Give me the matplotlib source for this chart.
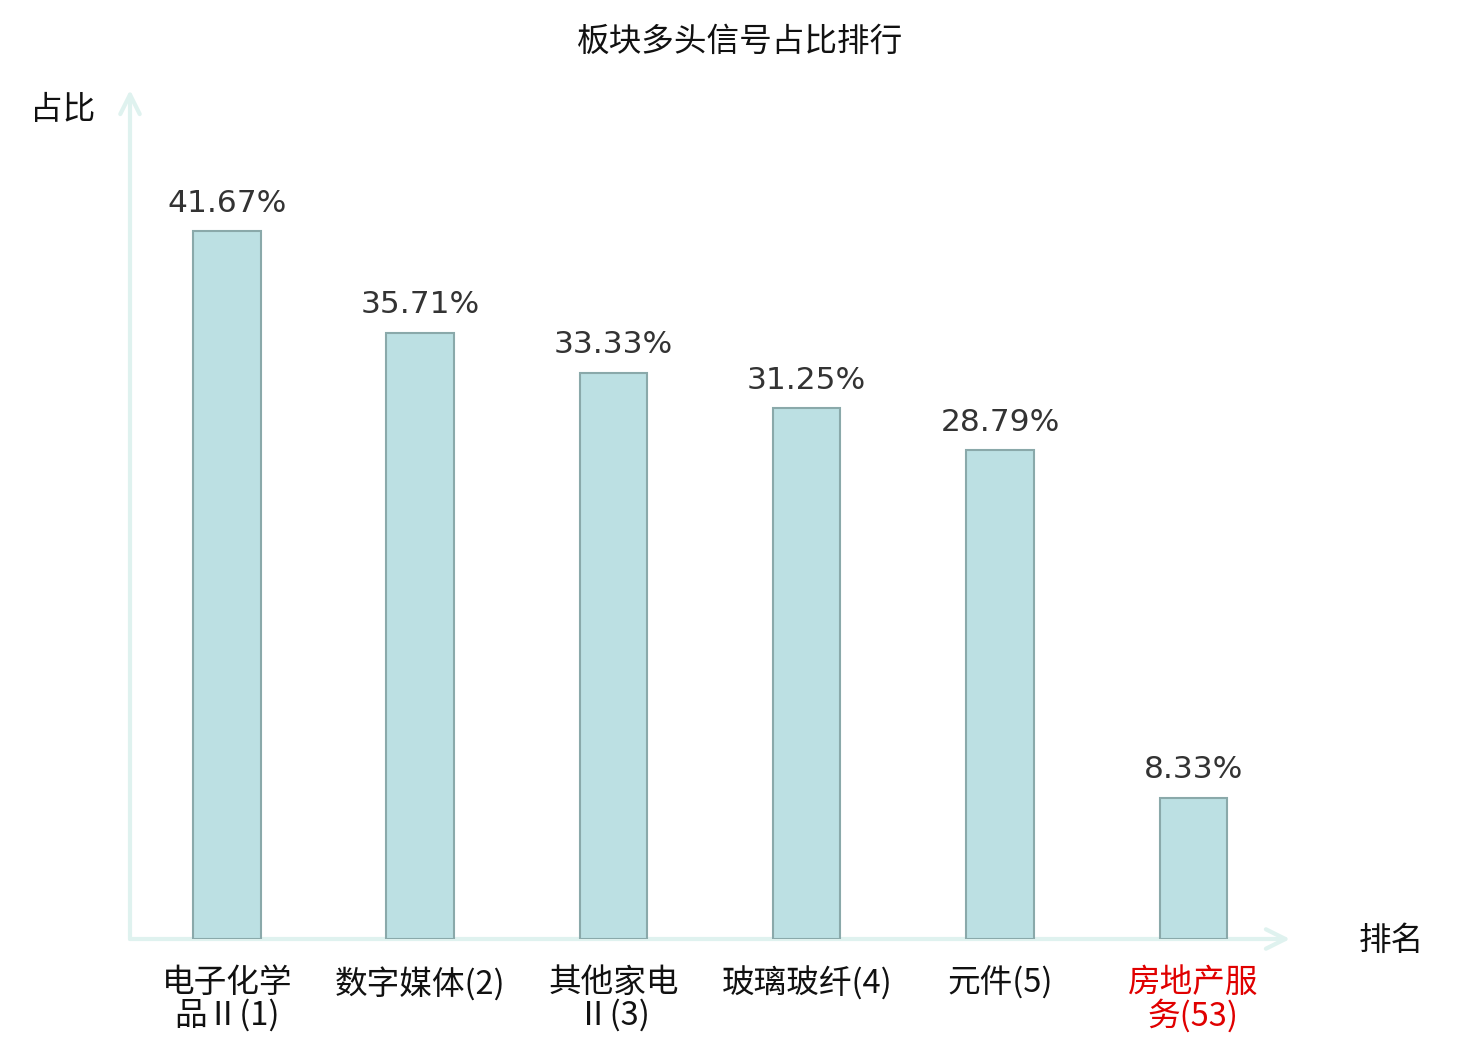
import matplotlib
matplotlib.use("Agg")
import matplotlib.pyplot as plt

plt.rcParams['font.family'] = ['Noto Sans CJK SC', 'DejaVu Sans']

# data
sectors = ['电子化学\n品Ⅱ(1)', '数字媒体(2)', '其他家电\nⅡ(3)', '玻璃玻纤(4)', '元件(5)', '房地产服\n务(53)']
ratios = [41.67, 35.71, 33.33, 31.25, 28.79, 8.33]
label_colors = ['#111111', '#111111', '#111111', '#111111', '#111111', '#e00000']

axis_color = '#dff2ef'

fig = plt.figure(figsize=(14.8, 10.4), dpi=100)
ax = fig.add_axes([130 / 1480, 101 / 1040, 1160 / 1480, 849 / 1040])

x = [i + 0.5 for i in range(len(ratios))]
bars = ax.bar(x, ratios, width=0.35, color='#bce0e3', edgecolor='#8aa9aa', linewidth=1.5, zorder=3)

for xi, v in zip(x, ratios):
    ax.text(xi, v + 0.8, '%.2f%%' % v, ha='center', va='bottom', fontsize=22.5,
            color='#333333', family='DejaVu Sans')

ax.set_xlim(0, len(ratios))
ax.set_ylim(0, 50)
ax.set_xticks(x)
ax.set_xticklabels(sectors, fontsize=23.5, linespacing=1.0)
for t, c in zip(ax.get_xticklabels(), label_colors):
    t.set_color(c)
ax.tick_params(axis='x', length=0, pad=20)
ax.set_yticks([])

for s in ax.spines.values():
    s.set_visible(False)

# axis lines with open arrow heads
arrow = dict(arrowstyle='->,head_length=1.4,head_width=0.7', color=axis_color, lw=3,
             shrinkA=0, shrinkB=0)
ax.annotate('', xy=(1, 0), xytext=(0, 0), xycoords='axes fraction', arrowprops=arrow, zorder=2)
ax.annotate('', xy=(0, 1), xytext=(0, 0), xycoords='axes fraction', arrowprops=arrow, zorder=2)

fig.text(740 / 1480, 1 - 42 / 1040, '板块多头信号占比排行', ha='center', va='center', fontsize=23.5, color='#111111')
fig.text(63 / 1480, 1 - 110 / 1040, '占比', ha='center', va='center', fontsize=23.5, color='#111111')
fig.text(1391 / 1480, 1 - 941 / 1040, '排名', ha='center', va='center', fontsize=23.5, color='#111111')

fig.savefig('out.png', dpi=100)
